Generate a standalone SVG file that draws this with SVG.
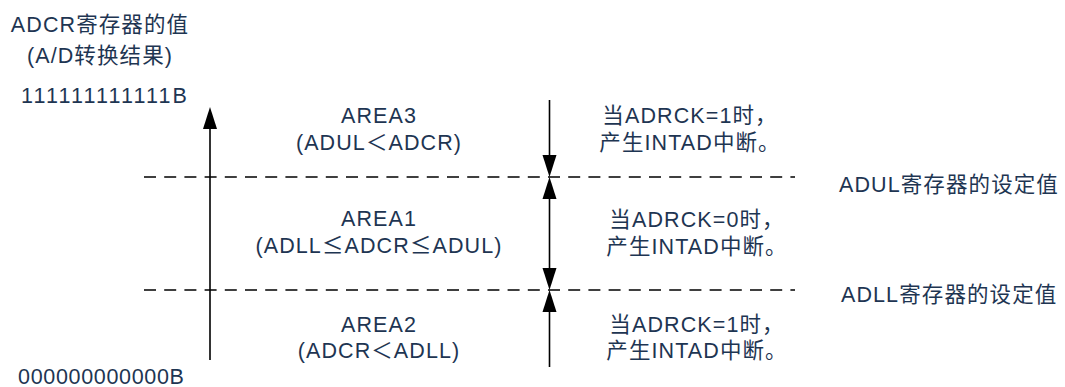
<svg xmlns="http://www.w3.org/2000/svg" width="1065" height="387" viewBox="0 0 1065 387">
<style>
text{font-family:"Liberation Sans","Noto Sans CJK SC",sans-serif;font-size:21.5px;fill:#1e3552;letter-spacing:1.1px}
.c{text-anchor:middle}
.le{font-family:"Noto Sans CJK JP","Noto Sans CJK SC",sans-serif}
.dash{stroke:#000;stroke-width:1.6;stroke-dasharray:12 8.2;fill:none}
.ln{stroke:#000;stroke-width:1.6;fill:none}
.hd{fill:#000}
</style>
<rect width="1065" height="387" fill="#fff"/>
<g id="axis-label">
<text class="c" x="100" y="32">ADCR寄存器的值</text>
<text class="c" x="100" y="63">(A/D转换结果)</text>
</g>
<g id="max-label"><text x="21" y="103" textLength="167" lengthAdjust="spacing">111111111111B</text></g>
<g id="min-label"><text x="18" y="384" textLength="167" lengthAdjust="spacing">000000000000B</text></g>
<g id="area3">
<text class="c" x="379" y="122.5">AREA3</text>
<text class="c" x="379" y="150">(ADUL＜ADCR)</text>
</g>
<g id="area1">
<text class="c" x="379" y="226">AREA1</text>
<text class="c" x="379" y="253">(ADLL<tspan class="le">≤</tspan>ADCR<tspan class="le">≤</tspan>ADUL)</text>
</g>
<g id="area2">
<text class="c" x="379" y="332">AREA2</text>
<text class="c" x="379" y="358">(ADCR＜ADLL)</text>
</g>
<g id="note3">
<text class="c" x="690" y="123">当ADRCK=1时，</text>
<text class="c" x="690" y="150">产生INTAD中断。</text>
</g>
<g id="note1">
<text class="c" x="697" y="226.5">当ADRCK=0时，</text>
<text class="c" x="697" y="254">产生INTAD中断。</text>
</g>
<g id="note2">
<text class="c" x="697" y="331.5">当ADRCK=1时，</text>
<text class="c" x="697" y="358">产生INTAD中断。</text>
</g>
<g id="adul-label"><text x="839" y="192">ADUL寄存器的设定值</text></g>
<g id="adll-label"><text x="841" y="302">ADLL寄存器的设定值</text></g>
<g id="connectors">
<line class="dash" x1="144" y1="177" x2="795" y2="177"/>
<line class="dash" x1="144" y1="290" x2="795" y2="290"/>
<line class="ln" x1="210" y1="128" x2="210" y2="360"/>
<polygon class="hd" points="210,107 203,129 217,129"/>
<line class="ln" x1="549.5" y1="100" x2="549.5" y2="157"/>
<polygon class="hd" points="549.5,177 542.5,155 556.5,155"/>
<line class="ln" x1="549.5" y1="197" x2="549.5" y2="270"/>
<polygon class="hd" points="549.5,177 542.5,199 556.5,199"/>
<polygon class="hd" points="549.5,290 542.5,268 556.5,268"/>
<line class="ln" x1="549.5" y1="310" x2="549.5" y2="367"/>
<polygon class="hd" points="549.5,290 542.5,312 556.5,312"/>
</g>
</svg>
